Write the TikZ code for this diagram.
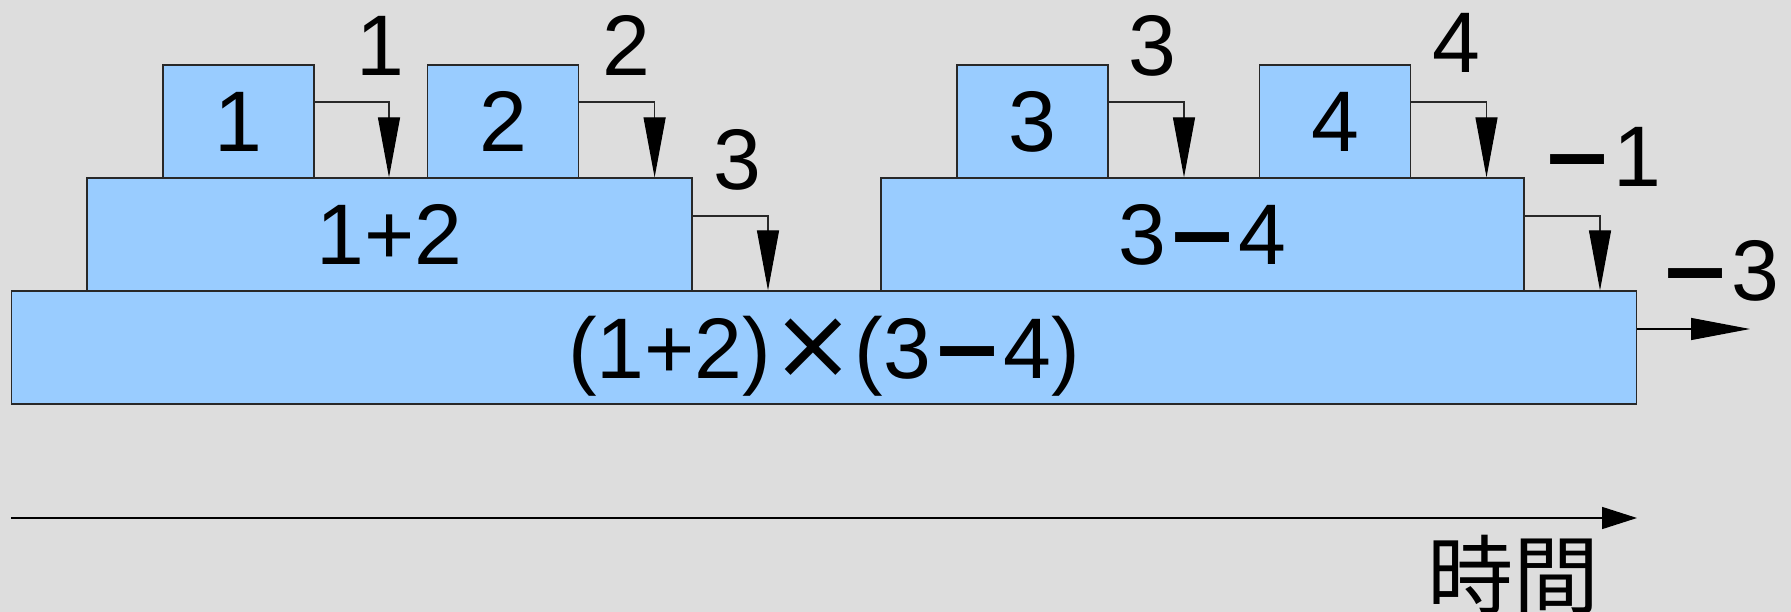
\documentclass[tikz,border=0pt]{standalone}
\usepackage{fontspec}
\setmainfont{Liberation Sans}
\newfontfamily\symf{DejaVu Sans}
\newfontfamily\cjk{Noto Sans CJK JP}
\usetikzlibrary{arrows.meta}
\definecolor{bgc}{RGB}{221,221,221}
\definecolor{boxc}{RGB}{153,204,255}
\definecolor{edgec}{RGB}{40,40,40}
\newcommand{\mns}{{\symf\bfseries −}}
\newcommand{\tms}{{\symf\fontsize{100}{100}\selectfont ×}}
\begin{document}
\begin{tikzpicture}[x=1pt,y=-1pt,
  box/.style={draw=edgec, line width=1.2pt, fill=boxc, inner sep=0pt,
    minimum height=113pt, text depth=0pt, font=\fontsize{86}{90}\selectfont},
  smallbox/.style={box, minimum width=151pt},
  conn/.style={draw=edgec, line width=1.2pt, -{Triangle[length=60pt,width=22pt,color=black]}},
  outconn/.style={draw=black, line width=1.2pt, -{Triangle[length=59pt,width=22pt,color=black]}},
  timeconn/.style={draw=black, line width=1.5pt, -{Triangle[length=35pt,width=22pt,color=black]}},
  lbl/.style={inner sep=0pt, anchor=base, font=\fontsize{86}{90}\selectfont},
  cjklbl/.style={inner sep=0pt, anchor=base, font=\cjk\fontsize{86}{90}\selectfont}]
\fill[bgc] (0,0) rectangle (1791,612);
\useasboundingbox (0,0) rectangle (1791,612);
% boxes
\node[smallbox] (b1) at (238.5,121.5) {1};
\node[smallbox] (b2) at (503,121.5) {2};
\node[smallbox] (b3) at (1032.5,121.5) {3};
\node[smallbox] (b4) at (1335,121.5) {4};
\node[box, minimum width=605pt] (b12) at (389.5,234.5) {1+2};
\node[box, minimum width=643pt] (b34) at (1202.5,234.5) {3\mns4};
\node[box, minimum width=1625.5pt] (bot) at (824,347.5) {(1+2)\tms(3\mns4)};
% turn points
\coordinate (t1) at (389,102);
\coordinate (t2) at (654.6,102);
\coordinate (t3) at (768,216);
\coordinate (t4) at (1184,102);
\coordinate (t5) at (1486.5,102);
\coordinate (t6) at (1600,216);
\coordinate (oe) at (1750,329);
\coordinate (ts) at (11.4,518);
\coordinate (te) at (1637,518);
% connectors
\draw[conn] (b1.east |- t1) -- (t1) -- (t1 |- b12.north);
\draw[conn] (b2.east |- t2) -- (t2) -- (t2 |- b12.north);
\draw[conn] (b12.east |- t3) -- (t3) -- (t3 |- bot.north);
\draw[conn] (b3.east |- t4) -- (t4) -- (t4 |- b34.north);
\draw[conn] (b4.east |- t5) -- (t5) -- (t5 |- b34.north);
\draw[conn] (b34.east |- t6) -- (t6) -- (t6 |- bot.north);
\draw[outconn] (bot.east |- oe) -- (oe);
\draw[timeconn] (ts) -- (te);
% labels
\node[lbl] (l1) at (380,76) {1};
\node[lbl] (l2) at (626,76) {2};
\node[lbl] (l3) at (737,190) {3};
\node[lbl] (l4) at (1152.5,76) {3};
\node[lbl] (l5) at (1456,73) {4};
\node[lbl] (l6) at (1601,187) {\mns1};
\node[lbl] (l7) at (1719,301) {\mns3};
\node[cjklbl] (time) at (1513,607) {時間};
\end{tikzpicture}
\end{document}
